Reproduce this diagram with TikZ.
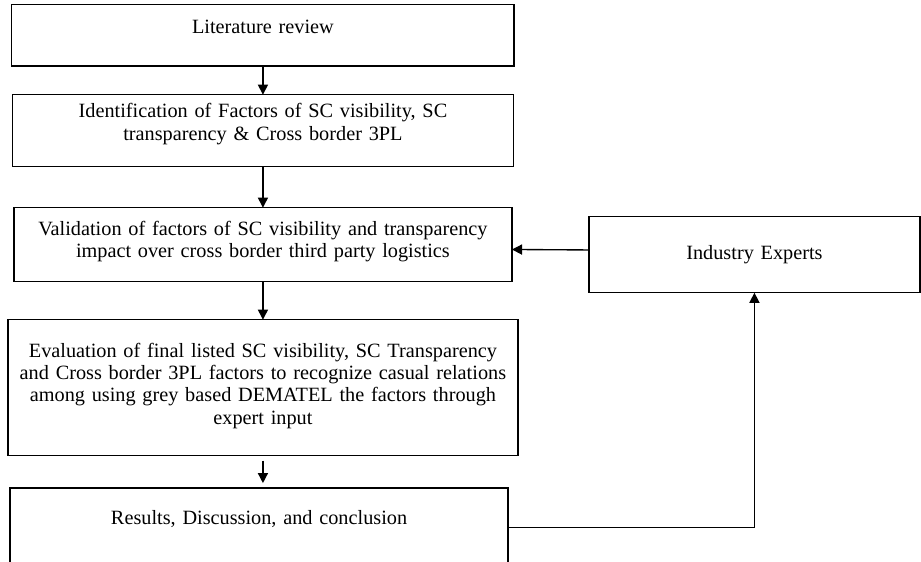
\documentclass[tikz,border=0pt]{standalone}
\usepackage{fontspec}
\setmainfont{Liberation Serif}
\usetikzlibrary{arrows.meta, positioning}
\tikzset{
  % riquadro di una fase del metodo
  phase/.style={draw=black, line width=0.8pt, inner xsep=0pt, inner ysep=0pt,
    outer sep=0pt, align=center, font=\fontsize{12}{13.2}\selectfont},
  % freccia tra le fasi
  flow/.style={-{Triangle[length=2.1mm, width=2.1mm]}, line width=0.8pt},
}
\begin{document}
\begin{tikzpicture}[node distance=0.6cm]
  \useasboundingbox (0,0) rectangle (19.16,-11.69);
  \node[phase, anchor=north, text width=10.45cm, text height=0.60cm, text depth=0.67cm] (lit) at (5.47,-0.10) {Literature review};
  \node[phase, text width=10.43cm, text height=0.48cm, text depth=1.02cm, below=0.60cm of lit] (ident) {Identification of Factors of SC visibility, SC\\ transparency \& Cross border 3PL};
  \node[phase, text width=10.36cm, text height=0.57cm, text depth=0.97cm, below=0.85cm of ident] (valid) {Validation of factors of SC visibility and transparency\\ impact over cross border third party logistics};
  \node[phase, text width=10.61cm, text height=0.78cm, text depth=2.05cm, below=0.79cm of valid] (eval) {Evaluation of final listed SC visibility, SC Transparency\\ and Cross border 3PL factors to recognize casual relations\\ among using grey based DEMATEL the factors through\\ expert input};
  \node[phase, text width=10.36cm, text height=0.76cm, text depth=0.90cm, below=0.67cm of eval, xshift=-0.08cm] (res) {Results, Discussion, and conclusion};
  \node[phase, text width=6.89cm, minimum height=1.58cm, right=1.60cm of valid, yshift=-0.21cm] (exp) {Industry Experts};
  \draw[flow] (lit) -- (ident);
  \draw[flow] (ident) -- (valid);
  \draw[flow] (valid) -- (eval);
  \draw[flow, shorten <=0.1cm, shorten >=0.1cm] (eval.south) -- (eval.south |- res.north);
  \draw[flow] ([yshift=0.1cm]exp.west) -- ([yshift=-0.1cm]valid.east);
  \draw[flow] (res.east) -| (exp.south);
\end{tikzpicture}
\end{document}
